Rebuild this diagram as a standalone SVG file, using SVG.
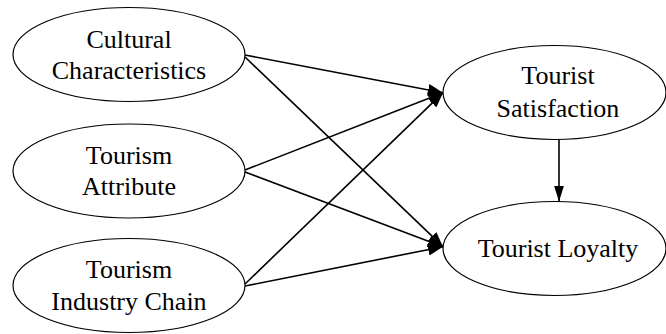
<svg xmlns="http://www.w3.org/2000/svg" width="666" height="334" viewBox="0 0 666 334">
<style>
.n{fill:#fff;stroke:#000;stroke-width:1.2}
.t{font-family:"Liberation Serif","Times New Roman",serif;font-size:26px;fill:#000;text-anchor:middle}
.c{stroke:#000;stroke-width:1.6;fill:none}
</style>
<defs>
<marker id="ah" markerUnits="userSpaceOnUse" markerWidth="16" markerHeight="12" refX="15" refY="6" orient="auto">
<path d="M0,0 L15,6 L0,12 z" fill="#000"/>
</marker>
<marker id="av" markerUnits="userSpaceOnUse" markerWidth="16" markerHeight="10" refX="16" refY="5" orient="auto">
<path d="M0,0 L16,5 L0,10 z" fill="#000"/>
</marker>
</defs>
<rect width="666" height="334" fill="#fff"/>
<g id="connectors">
<line class="c" x1="245" y1="55" x2="443" y2="92.7" marker-end="url(#ah)"/>
<line class="c" x1="245" y1="57" x2="443" y2="246.7" marker-end="url(#ah)"/>
<line class="c" x1="245" y1="170" x2="443" y2="92.7" marker-end="url(#ah)"/>
<line class="c" x1="245" y1="172" x2="443" y2="246.7" marker-end="url(#ah)"/>
<line class="c" x1="245" y1="284" x2="443" y2="92.7" marker-end="url(#ah)"/>
<line class="c" x1="245" y1="286" x2="443" y2="246.7" marker-end="url(#ah)"/>
<line class="c" x1="559" y1="139.5" x2="559" y2="201.5" marker-end="url(#av)"/>
</g>
<g id="cultural">
<ellipse class="n" cx="129" cy="54.5" rx="116" ry="47"/>
<text class="t" x="129" y="48">Cultural</text>
<text class="t" x="129" y="79">Characteristics</text>
</g>
<g id="attribute">
<ellipse class="n" cx="129" cy="171" rx="116" ry="47"/>
<text class="t" x="129" y="164">Tourism</text>
<text class="t" x="129" y="194.5">Attribute</text>
</g>
<g id="industry">
<ellipse class="n" cx="129" cy="285.5" rx="116" ry="47"/>
<text class="t" x="129" y="278">Tourism</text>
<text class="t" x="129" y="310">Industry Chain</text>
</g>
<g id="satisfaction">
<ellipse class="n" cx="554.5" cy="92.5" rx="111.5" ry="47"/>
<text class="t" x="558" y="84">Tourist</text>
<text class="t" x="558" y="116.5">Satisfaction</text>
</g>
<g id="loyalty">
<ellipse class="n" cx="554.5" cy="248.5" rx="111.5" ry="47"/>
<text class="t" x="558" y="257">Tourist Loyalty</text>
</g>
</svg>
